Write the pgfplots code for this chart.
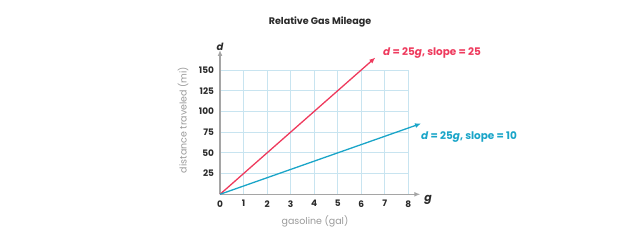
\documentclass[border=0pt]{standalone}
\usepackage{fontspec}
\setmainfont{Poppins}
\usepackage{pgfplots}
\pgfplotsset{compat=1.18}
\usetikzlibrary{arrows.meta}
\definecolor{gred}{HTML}{EE3A5D}
\definecolor{gblue}{HTML}{1AA5C8}
\definecolor{ggrid}{HTML}{C8E4F0}
\definecolor{gaxis}{HTML}{A5A5A5}
\definecolor{glab}{HTML}{9A9A9A}
\definecolor{gtxt}{HTML}{2A2A2A}
\begin{document}
\begin{tikzpicture}[x=1bp,y=1bp]
\path[use as bounding box] (0,0) rectangle (640,240);
\begin{axis}[
  at={(220bp,45.7bp)}, anchor=south west,
  scale only axis, width=188.3bp, height=124.3bp,
  xmin=0, xmax=8, ymin=0, ymax=150,
  axis lines=left, clip=false,
  xtick={0,...,8}, ytick={25,50,...,150},
  grid=major, grid style={ggrid, line width=0.9bp},
  major tick length=0pt,
  x axis line style={gaxis, line width=1.2bp, -{Latex[length=6bp,width=5bp]}, shorten >=-12bp},
  y axis line style={gaxis, line width=1.2bp, -{Latex[length=6bp,width=5bp]}, shorten >=-20bp},
  /pgf/number format/assume math mode=true,
  tick label style={font=\fontsize{9}{9}\selectfont\bfseries, text=gtxt},
  xticklabel style={yshift=-2.5bp},
  yticklabel style={xshift=-2.5bp},
]
\addplot[gred, line width=1.3bp, -{Latex[length=6bp,width=5bp]}] coordinates {(0,0) (6.6,165)};
\addplot[gblue, line width=1.3bp, -{Latex[length=6bp,width=5bp]}] coordinates {(0,0) (8.54,85.4)};
\end{axis}
\node[font=\fontsize{9.6}{9.6}\selectfont\bfseries, text=gtxt] at (320,218) {Relative Gas Mileage};
\node[font=\fontsize{10}{10}\selectfont\bfseries\itshape, text=gtxt] at (220,193.3) {d};
\node[font=\fontsize{11}{11}\selectfont\bfseries\itshape, text=gtxt] at (428,40.5) {g};
\node[font=\fontsize{9.5}{9.5}\selectfont, text=glab, rotate=90] at (183,120) {distance traveled (mi)};
\node[font=\fontsize{9.5}{9.5}\selectfont, text=glab] at (315,18.3) {gasoline (gal)};
\node[font=\fontsize{10.5}{10.5}\selectfont\bfseries, text=gred, anchor=west, inner sep=0pt] at (383,187.3) {\textit{d} = 25\textit{g}, slope = 25};
\node[font=\fontsize{10.5}{10.5}\selectfont\bfseries, text=gblue, anchor=west, inner sep=0pt] at (421,103.3) {\textit{d} = 25\textit{g}, slope = 10};
\end{tikzpicture}
\end{document}
